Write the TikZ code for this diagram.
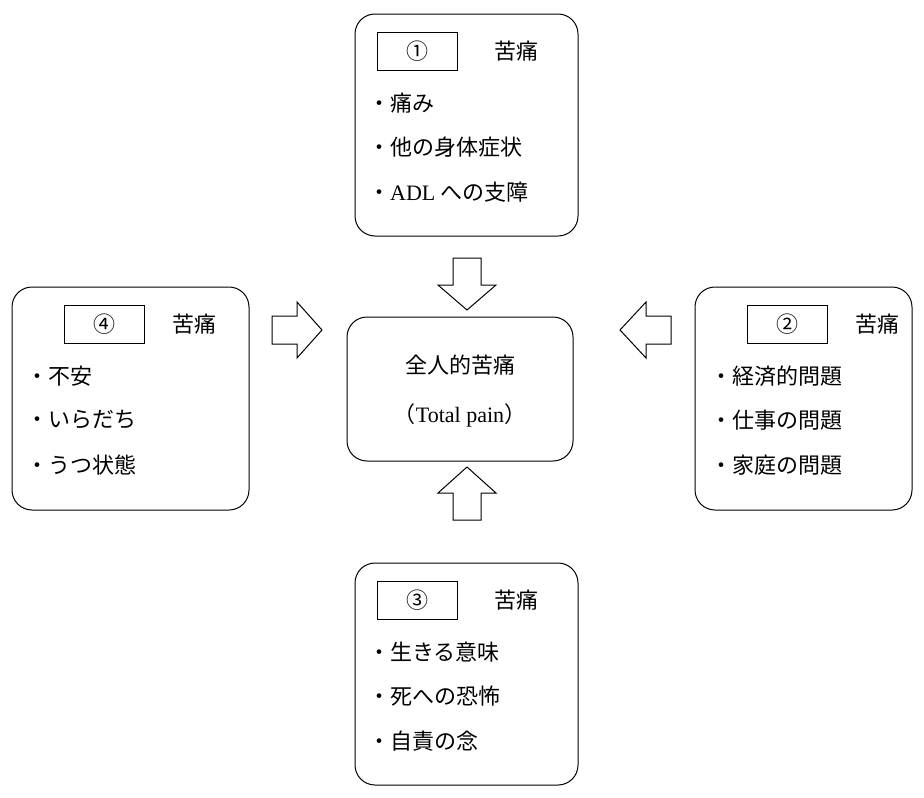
\documentclass[tikz,border=0pt]{standalone}
\usepackage{fontspec}
\setmainfont{Liberation Serif}
\newfontfamily\cjk{Noto Sans CJK JP}
\usetikzlibrary{positioning}
\tikzset{
  tag/.style={draw,line width=0.8pt,minimum width=80pt,minimum height=38pt,inner sep=0pt},
  item/.style={anchor=west,inner sep=0pt},
  barrow/.style={draw,line width=1pt,fill=white}
}
\begin{document}
\begin{tikzpicture}[x=1pt,y=-1pt,font=\cjk\fontsize{22pt}{26pt}\selectfont]
\useasboundingbox (0,0) rectangle (924,798);
% boxes
\draw[line width=1pt,rounded corners=20pt] (355,14) rectangle (578,236);
\draw[line width=1pt,rounded corners=20pt] (12,287) rectangle (249,510);
\draw[line width=1pt,rounded corners=20pt] (695,287) rectangle (912,510);
\draw[line width=1pt,rounded corners=20pt] (355,563) rectangle (578,785);
\draw[line width=1pt,rounded corners=20pt] (347,317) rectangle (573,461);
% center text
\node (tp) at (460,365) {全人的苦痛};
\node (tpe) at (460,415) {（{\rmfamily Total pain}）};
% top
\node[tag] (t1) at (417,51) {①};
\node (k1) at (516,51) {苦痛};
\node[item] (a1) at (368,103) {・痛み};
\node[item] (a2) at (368,147) {・他の身体症状};
\node[item] (a3) at (368,192) {・{\rmfamily ADL} への支障};
% right
\node[tag] (t2) at (787,324) {②};
\node (k2) at (877,324) {苦痛};
\node[item] (b1) at (710,376) {・経済的問題};
\node[item] (b2) at (710,420) {・仕事の問題};
\node[item] (b3) at (710,465) {・家庭の問題};
% bottom
\node[tag] (t3) at (417,600) {③};
\node (k3) at (516,600) {苦痛};
\node[item] (c1) at (368,652) {・生きる意味};
\node[item] (c2) at (368,696) {・死への恐怖};
\node[item] (c3) at (368,741) {・自責の念};
% left
\node[tag] (t4) at (104,324) {④};
\node (k4) at (194,324) {苦痛};
\node[item] (d1) at (26,376) {・不安};
\node[item] (d2) at (26,420) {・いらだち};
\node[item] (d3) at (26,465) {・うつ状態};
% block arrows
\draw[barrow] (453,258) -- (481,258) -- (481,285) -- (496,285) -- (467,310) -- (438,285) -- (453,285) -- cycle;
\draw[barrow] (453,520) -- (481,520) -- (481,493) -- (496,493) -- (467,467) -- (438,493) -- (453,493) -- cycle;
\draw[barrow] (272,316) -- (297,316) -- (297,302) -- (322,330) -- (297,358) -- (297,344) -- (272,344) -- cycle;
\draw[barrow] (671,316) -- (646,316) -- (646,302) -- (620,330) -- (646,358) -- (646,344) -- (671,344) -- cycle;
\end{tikzpicture}
\end{document}
